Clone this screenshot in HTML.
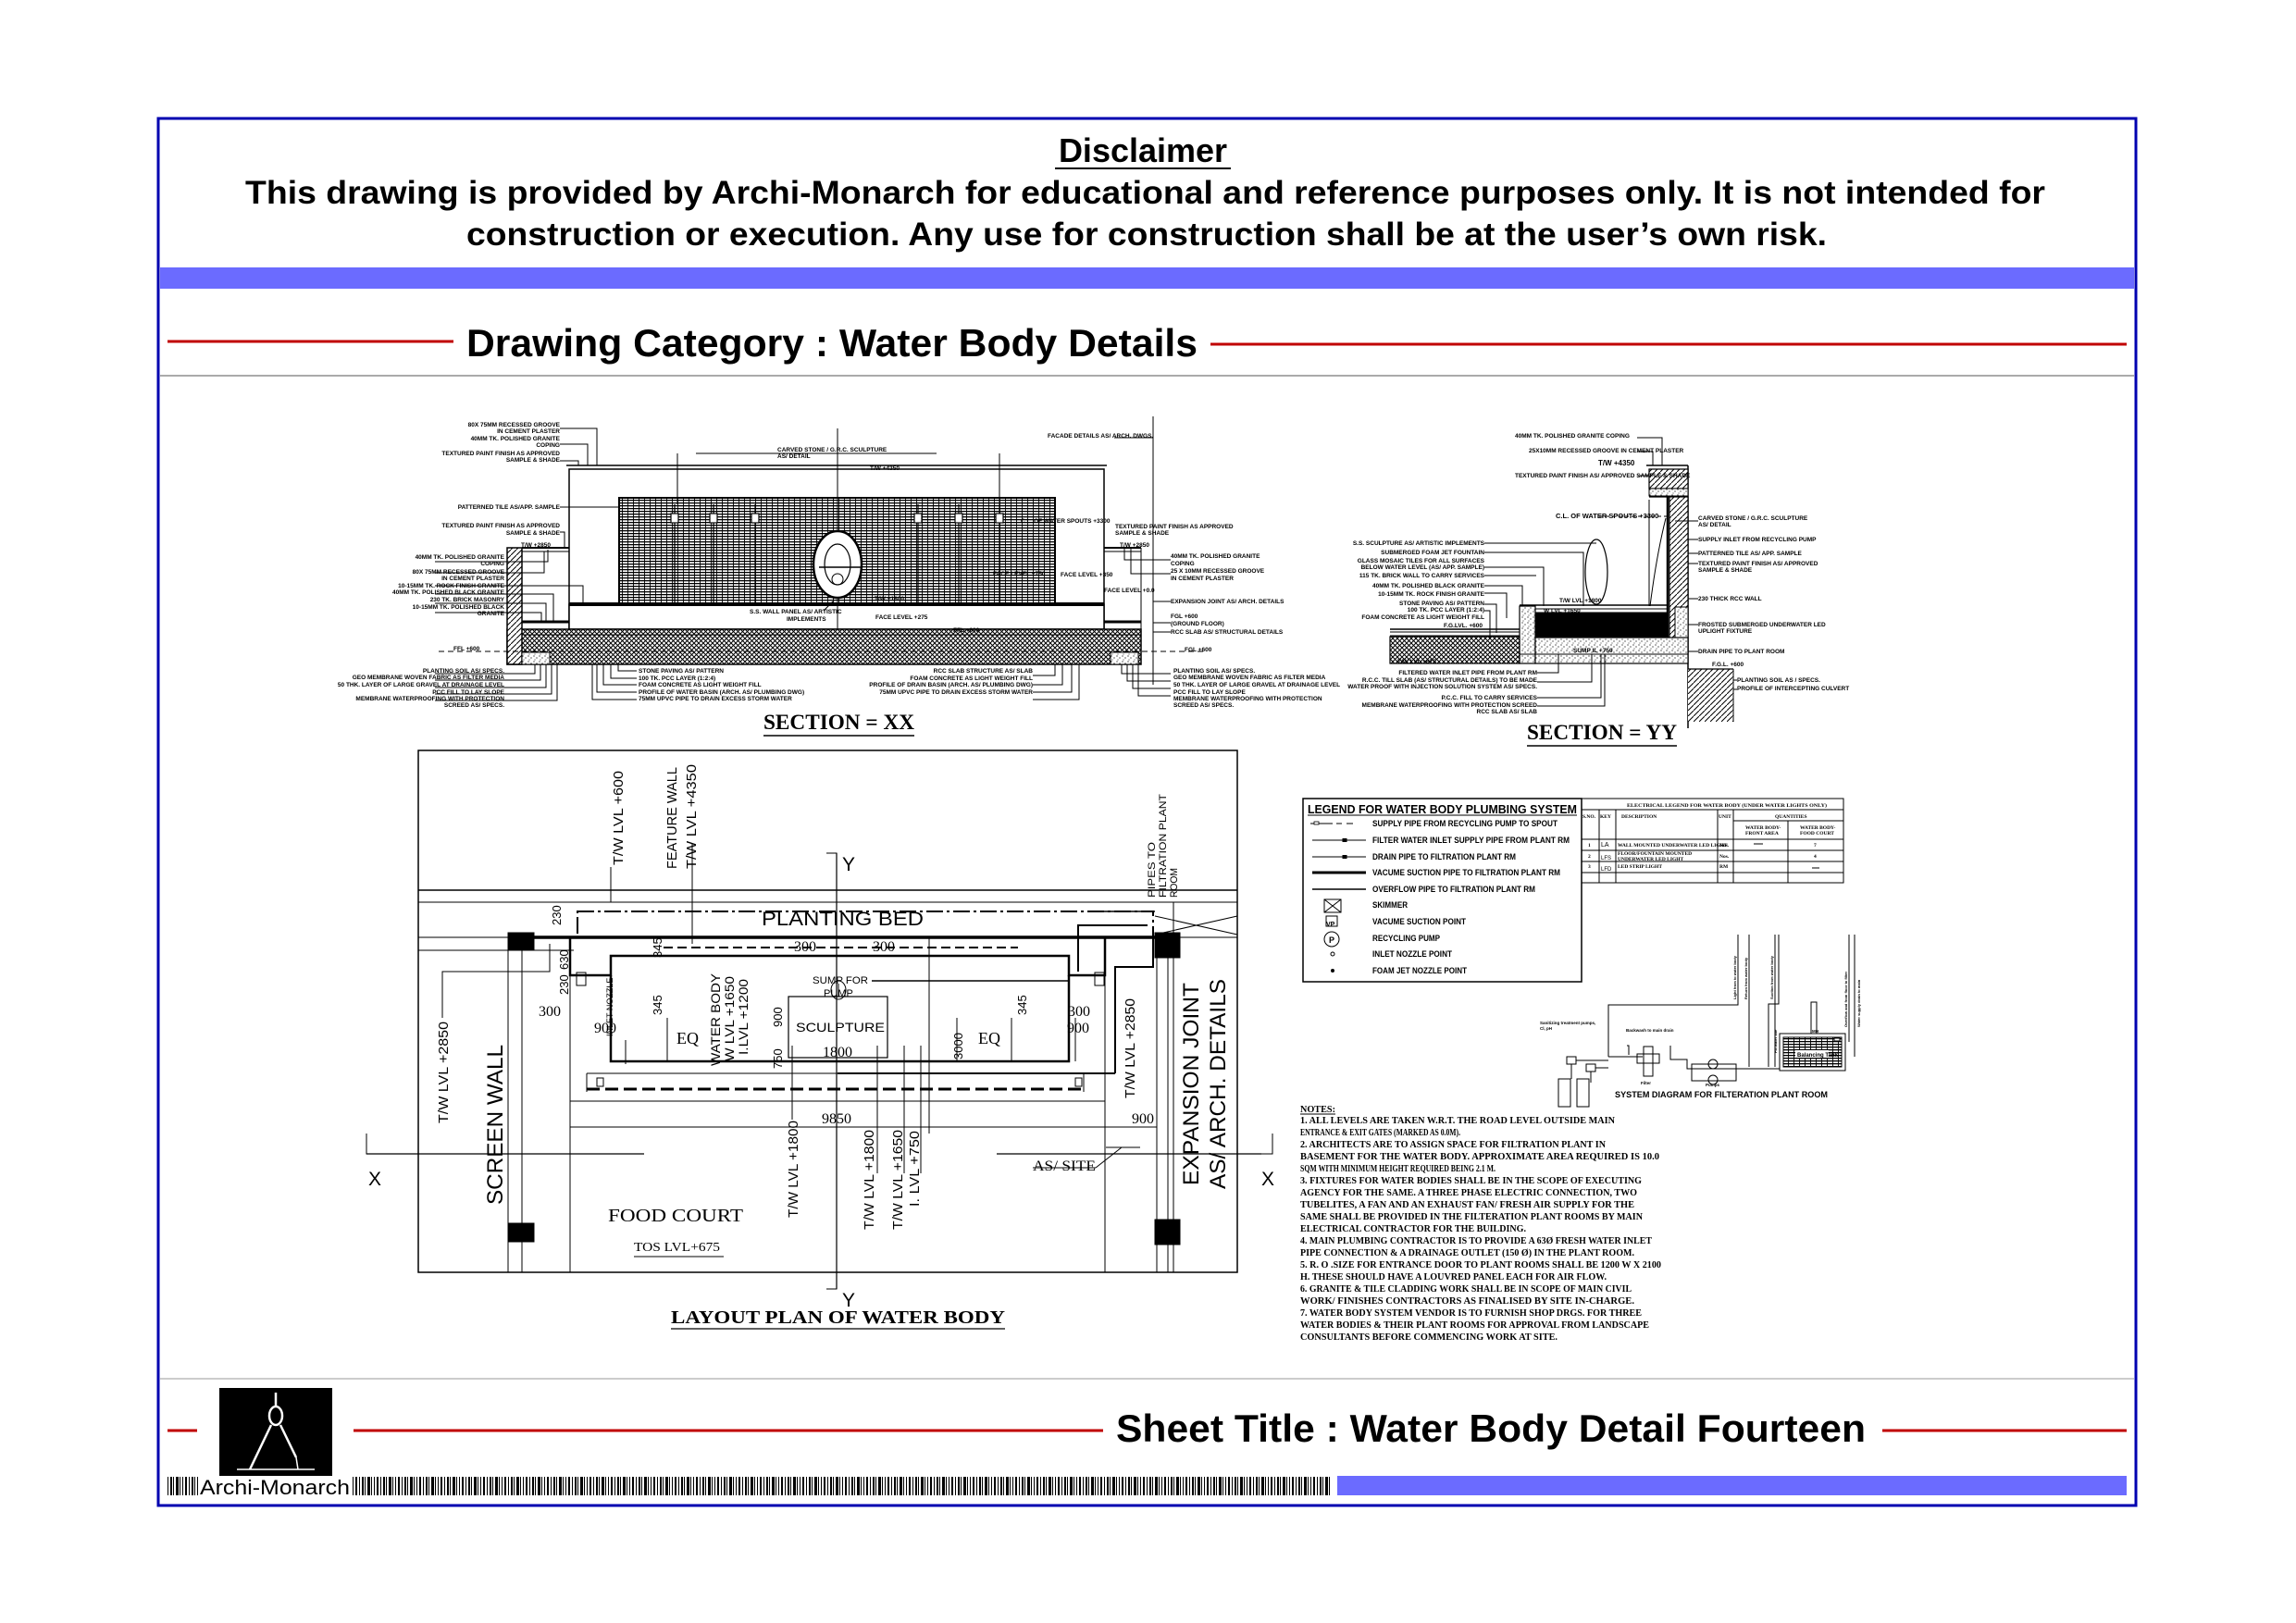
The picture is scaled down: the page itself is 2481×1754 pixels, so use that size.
<!DOCTYPE html>
<html><head><meta charset="utf-8">
<style>
html,body{margin:0;padding:0;background:#fff;}
svg{display:block;}
.s{font-family:"Liberation Sans",sans-serif;}
.sb{font-family:"Liberation Sans",sans-serif;font-weight:bold;}
.r{font-family:"Liberation Serif",serif;}
.rb{font-family:"Liberation Serif",serif;font-weight:bold;}
.t{font-family:"Liberation Sans",sans-serif;font-weight:bold;font-size:6.5px;}
</style></head>
<body>
<svg width="2481" height="1754" viewBox="0 0 2481 1754" xmlns="http://www.w3.org/2000/svg">
<defs>
<pattern id="tile" width="6" height="3" patternUnits="userSpaceOnUse"><rect width="6" height="3" fill="#fff"/><line x1="0" y1="0.6" x2="6" y2="0.6" stroke="#000" stroke-width="1.4"/><line x1="0.5" y1="0" x2="0.5" y2="3" stroke="#000" stroke-width="0.9"/></pattern>
<pattern id="cross" width="5" height="5" patternUnits="userSpaceOnUse"><rect width="5" height="5" fill="#fff"/><path d="M0 0L5 5M5 0L0 5" stroke="#000" stroke-width="1"/></pattern>
<pattern id="diag" width="6" height="6" patternUnits="userSpaceOnUse"><rect width="6" height="6" fill="#fff"/><path d="M0 6L6 0" stroke="#000" stroke-width="1"/></pattern>
<pattern id="dots" width="6" height="6" patternUnits="userSpaceOnUse"><rect width="6" height="6" fill="#fff"/><circle cx="1" cy="1" r="0.6"/><circle cx="4" cy="3" r="0.6"/><circle cx="2" cy="5" r="0.5"/></pattern>
<pattern id="bar" width="23" height="20" patternUnits="userSpaceOnUse"><rect x="0" y="0" width="2" height="20"/><rect x="3" y="0" width="1" height="20"/><rect x="6" y="0" width="3" height="20"/><rect x="10" y="0" width="1" height="20"/><rect x="13" y="0" width="1" height="20"/><rect x="16" y="0" width="2" height="20"/><rect x="20" y="0" width="1" height="20"/></pattern>
</defs>

<!-- frame -->
<rect x="171" y="128" width="2137" height="1499" fill="none" stroke="#0000b0" stroke-width="3"/>
<rect x="173" y="289" width="2133" height="23" fill="#6b6bff"/>

<!-- disclaimer -->
<text class="sb" x="1235" y="175" font-size="36" text-anchor="middle">Disclaimer</text>
<line x1="1140" y1="182" x2="1330" y2="182" stroke="#000" stroke-width="2"/>
<text class="sb" x="265" y="220" font-size="35" textLength="1945" lengthAdjust="spacingAndGlyphs">This drawing is provided by Archi-Monarch for educational and reference purposes only. It is not intended for</text>
<text class="sb" x="504" y="265" font-size="35" textLength="1470" lengthAdjust="spacingAndGlyphs">construction or execution. Any use for construction shall be at the user’s own risk.</text>

<!-- category -->
<line x1="181" y1="369" x2="490" y2="369" stroke="#c00000" stroke-width="3"/>
<text class="sb" x="504" y="385" font-size="42" textLength="790" lengthAdjust="spacingAndGlyphs">Drawing Category : Water Body Details</text>
<line x1="1308" y1="372" x2="2298" y2="372" stroke="#c00000" stroke-width="3"/>
<line x1="173" y1="406" x2="2306" y2="406" stroke="#aaa" stroke-width="2"/>

<!-- ================= SECTION XX ================= -->
<g stroke="#000" fill="none">
<rect x="615" y="507" width="578" height="173" stroke-width="1.5"/>
<line x1="612" y1="503" x2="1196" y2="503" stroke-width="1.5"/>
<rect x="669" y="538" width="471" height="115" fill="url(#tile)" stroke-width="2"/>
<rect x="615" y="653" width="578" height="27" fill="#fff" stroke-width="1.5"/>
<line x1="615" y1="653" x2="1193" y2="653" stroke-width="4"/>
<rect x="548" y="680" width="685" height="38" fill="url(#cross)" stroke-width="1.5"/>
<line x1="548" y1="686" x2="1233" y2="686" stroke-width="1"/>
<rect x="548" y="592" width="16" height="126" fill="url(#diag)" stroke-width="1.5"/>
<line x1="564" y1="592" x2="615" y2="592" stroke-width="2"/>
<line x1="564" y1="596" x2="615" y2="596" stroke-width="1"/>
<line x1="1193" y1="592" x2="1233" y2="592" stroke-width="2"/>
<line x1="1193" y1="596" x2="1233" y2="596" stroke-width="1"/>
<line x1="564" y1="672" x2="615" y2="672" stroke-width="3"/>
<line x1="1193" y1="672" x2="1233" y2="672" stroke-width="3"/>
<line x1="1233" y1="592" x2="1233" y2="718" stroke-width="1"/>
<rect x="564" y="705" width="30" height="13" fill="url(#dots)"/>
<rect x="1200" y="705" width="30" height="13" fill="url(#dots)"/>
<line x1="474" y1="704" x2="1300" y2="704" stroke-width="1" stroke-dasharray="6 4"/>
<line x1="905" y1="463" x2="905" y2="680" stroke-width="1"/>
<line x1="1246" y1="450" x2="1246" y2="740" stroke-width="1"/>
<ellipse cx="905" cy="610" rx="26" ry="36" fill="#fff" stroke-width="2.5"/>
<ellipse cx="905" cy="610" rx="14" ry="22" stroke-width="1.2"/>
<circle cx="905" cy="626" r="6" stroke-width="1"/>
<line x1="885" y1="613" x2="930" y2="613" stroke-width="1.5"/>
<g stroke-width="1.2">
<line x1="729" y1="545" x2="729" y2="653"/><rect x="725" y="555" width="8" height="10" fill="#fff"/>
<line x1="771" y1="545" x2="771" y2="653"/><rect x="767" y="555" width="8" height="10" fill="#fff"/>
<line x1="816" y1="545" x2="816" y2="653"/><rect x="812" y="555" width="8" height="10" fill="#fff"/>
<line x1="992" y1="545" x2="992" y2="653"/><rect x="988" y="555" width="8" height="10" fill="#fff"/>
<line x1="1036" y1="545" x2="1036" y2="653"/><rect x="1032" y="555" width="8" height="10" fill="#fff"/>
<line x1="1080" y1="545" x2="1080" y2="653"/><rect x="1076" y="555" width="8" height="10" fill="#fff"/>
</g>
<g stroke-width="1">
<polyline points="605,463 645,463 645,503"/>
<polyline points="605,480 635,480 635,503"/>
<polyline points="605,498 625,498 625,503"/>
<line x1="605" y1="548" x2="669" y2="548"/>
<polyline points="605,575 610,575 610,592"/>
<polyline points="470,607 592,607 592,594"/>
<polyline points="470,619 588,619 588,596"/>
<polyline points="470,633 630,633 630,653"/>
<polyline points="470,642 598,642 598,672"/>
<polyline points="470,652 590,652 590,672"/>
<polyline points="470,662 585,662 585,672"/>
<polyline points="470,728 578,728 578,718"/>
<polyline points="470,735 584,735 584,718"/>
<polyline points="470,743 590,743 590,718"/>
<polyline points="470,750 596,750 596,718"/>
<polyline points="470,757 602,757 602,718"/>
<polyline points="688,725 668,725 668,718"/>
<polyline points="688,733 660,733 660,718"/>
<polyline points="688,740 652,740 652,718"/>
<polyline points="688,748 645,748 645,718"/>
<polyline points="688,756 640,756 640,718"/>
<polyline points="1116,730 1140,730 1140,718"/>
<polyline points="1116,740 1148,740 1148,718"/>
<polyline points="1116,748 1158,748 1158,718"/>
<polyline points="1116,756 1166,756 1166,718"/>
<polyline points="1265,728 1212,728 1212,718"/>
<polyline points="1265,736 1218,736 1218,718"/>
<polyline points="1265,744 1224,744 1224,718"/>
<polyline points="1265,752 1230,752 1230,718"/>
<polyline points="1265,605 1215,605 1215,592"/>
<polyline points="1265,620 1222,620 1222,592"/>
<polyline points="1265,650 1246,650"/>
<polyline points="1265,673 1246,673"/>
<polyline points="1265,683 1246,683"/>
<polyline points="752,490 1012,490"/>
<polyline points="732,490 732,545"/><polyline points="1080,490 1080,545"/>
<line x1="1204" y1="473" x2="1246" y2="473"/>
<line x1="900" y1="650" x2="890" y2="660"/>
</g>
</g>
<g class="t">
<text x="605" y="461" text-anchor="end">80X 75MM RECESSED GROOVE</text>
<text x="605" y="468" text-anchor="end">IN CEMENT PLASTER</text>
<text x="605" y="476" text-anchor="end">40MM TK. POLISHED GRANITE</text>
<text x="605" y="483" text-anchor="end">COPING</text>
<text x="605" y="492" text-anchor="end">TEXTURED PAINT FINISH AS APPROVED</text>
<text x="605" y="499" text-anchor="end">SAMPLE &amp; SHADE</text>
<text x="605" y="550" text-anchor="end">PATTERNED TILE AS/APP. SAMPLE</text>
<text x="605" y="570" text-anchor="end">TEXTURED PAINT FINISH AS APPROVED</text>
<text x="605" y="578" text-anchor="end">SAMPLE &amp; SHADE</text>
<text x="595" y="591" text-anchor="end">T/W +2850</text>
<text x="545" y="604" text-anchor="end">40MM TK. POLISHED GRANITE</text>
<text x="545" y="611" text-anchor="end">COPING</text>
<text x="545" y="620" text-anchor="end">80X 75MM RECESSED GROOVE</text>
<text x="545" y="627" text-anchor="end">IN CEMENT PLASTER</text>
<text x="545" y="635" text-anchor="end">10-15MM TK. ROCK FINISH GRANITE</text>
<text x="545" y="642" text-anchor="end">40MM TK. POLISHED BLACK GRANITE</text>
<text x="545" y="650" text-anchor="end">230 TK. BRICK MASONRY</text>
<text x="545" y="658" text-anchor="end">10-15MM TK. POLISHED BLACK</text>
<text x="545" y="665" text-anchor="end">GRANITE</text>
<text x="490" y="703">FFL +600</text>
<text x="545" y="727" text-anchor="end">PLANTING SOIL AS/ SPECS.</text>
<text x="545" y="734" text-anchor="end">GEO MEMBRANE WOVEN FABRIC AS FILTER MEDIA</text>
<text x="545" y="742" text-anchor="end">50 THK. LAYER OF LARGE GRAVEL AT DRAINAGE LEVEL</text>
<text x="545" y="750" text-anchor="end">PCC FILL TO LAY SLOPE</text>
<text x="545" y="757" text-anchor="end">MEMBRANE WATERPROOFING WITH PROTECTION</text>
<text x="545" y="764" text-anchor="end">SCREED AS/ SPECS.</text>
<text x="690" y="727">STONE PAVING AS/ PATTERN</text>
<text x="690" y="735">100 TK. PCC LAYER (1:2:4)</text>
<text x="690" y="742">FOAM CONCRETE AS LIGHT WEIGHT FILL</text>
<text x="690" y="750">PROFILE OF WATER BASIN (ARCH. AS/ PLUMBING DWG)</text>
<text x="690" y="757">75MM UPVC PIPE TO DRAIN EXCESS STORM WATER</text>
<text x="1116" y="727" text-anchor="end">RCC SLAB STRUCTURE AS/ SLAB</text>
<text x="1116" y="735" text-anchor="end">FOAM CONCRETE AS LIGHT WEIGHT FILL</text>
<text x="1116" y="742" text-anchor="end">PROFILE OF DRAIN BASIN (ARCH. AS/ PLUMBING DWG)</text>
<text x="1116" y="750" text-anchor="end">75MM UPVC PIPE TO DRAIN EXCESS STORM WATER</text>
<text x="1268" y="727">PLANTING SOIL AS/ SPECS.</text>
<text x="1268" y="734">GEO MEMBRANE WOVEN FABRIC AS FILTER MEDIA</text>
<text x="1268" y="742">50 THK. LAYER OF LARGE GRAVEL AT DRAINAGE LEVEL</text>
<text x="1268" y="750">PCC FILL TO LAY SLOPE</text>
<text x="1268" y="757">MEMBRANE WATERPROOFING WITH PROTECTION</text>
<text x="1268" y="764">SCREED AS/ SPECS.</text>
<text x="1205" y="571">TEXTURED PAINT FINISH AS APPROVED</text>
<text x="1205" y="578">SAMPLE &amp; SHADE</text>
<text x="1210" y="591">T/W +2850</text>
<text x="1265" y="603">40MM TK. POLISHED GRANITE</text>
<text x="1265" y="611">COPING</text>
<text x="1265" y="619">25 X 10MM RECESSED GROOVE</text>
<text x="1265" y="627">IN CEMENT PLASTER</text>
<text x="1265" y="652">EXPANSION JOINT AS/ ARCH. DETAILS</text>
<text x="1265" y="668">FGL +600</text>
<text x="1265" y="676">(GROUND FLOOR)</text>
<text x="1265" y="685">RCC SLAB AS/ STRUCTURAL DETAILS</text>
<text x="1280" y="704">FGL +600</text>
<text x="1132" y="473">FACADE DETAILS AS/ ARCH. DWGS.</text>
<text x="840" y="488">CARVED STONE / G.R.C. SCULPTURE</text>
<text x="840" y="495">AS/ DETAIL</text>
<text x="940" y="508">T/W +4350</text>
<text x="1103" y="565">C.L. OF WATER SPOUTS +3300</text>
<text x="1146" y="623">FACE LEVEL +350</text>
<text x="1193" y="640">FACE LEVEL +0.0</text>
<text x="1073" y="622">FACE LEVEL +750</text>
<text x="945" y="649">T/W +1800</text>
<text x="810" y="663">S.S. WALL PANEL AS/ ARTISTIC</text>
<text x="850" y="671">IMPLEMENTS</text>
<text x="946" y="669">FACE LEVEL +275</text>
<text x="1030" y="683">FFL +600</text>
</g>
<text class="rb" x="825" y="788" font-size="23" textLength="163" lengthAdjust="spacingAndGlyphs">SECTION = XX</text>
<line x1="825" y1="795" x2="988" y2="795" stroke="#000" stroke-width="1.5"/>

<!-- ================= LAYOUT PLAN ================= -->
<g stroke="#000" fill="none">
<rect x="452" y="811" width="885" height="564" stroke-width="1.5"/>
<line x1="452" y1="962" x2="1337" y2="962" stroke-width="1.5"/>
<line x1="452" y1="975" x2="1337" y2="975" stroke-width="1"/>
<line x1="452" y1="1013" x2="1337" y2="1013" stroke-width="1"/>
<line x1="452" y1="1027" x2="620" y2="1027" stroke-width="1"/>
<line x1="549" y1="1013" x2="549" y2="1375" stroke-width="1"/>
<line x1="564" y1="1013" x2="564" y2="1375" stroke-width="1"/>
<rect x="549" y="1008" width="28" height="19" fill="#000"/>
<rect x="549" y="1322" width="28" height="20" fill="#000"/>
<rect x="1248" y="1008" width="27" height="27" fill="#000"/>
<rect x="1248" y="1318" width="27" height="27" fill="#000"/>
<line x1="1250" y1="1035" x2="1250" y2="1375" stroke-width="1"/>
<line x1="1262" y1="1035" x2="1262" y2="1375" stroke-width="1"/>
<line x1="1268" y1="975" x2="1268" y2="1375" stroke-width="1"/>
<line x1="1194" y1="1045" x2="1194" y2="1375" stroke-width="1"/>
<line x1="616" y1="1045" x2="616" y2="1375" stroke-width="1"/>
<rect x="624" y="985" width="622" height="28" stroke-width="2" stroke-dasharray="18 4 3 4"/>
<line x1="577" y1="1013" x2="1248" y2="1013" stroke-width="3.5"/>
<polyline points="616,1013 616,1054 660,1054 660,1033 1155,1033 1155,1054 1194,1054 1194,1013" stroke-width="2.5"/>
<polyline points="660,1054 660,1147 1155,1147 1155,1054" stroke-width="2.5"/>
<line x1="717" y1="1024" x2="1100" y2="1024" stroke-width="2" stroke-dasharray="10 5"/>
<line x1="634" y1="1177" x2="1171" y2="1177" stroke-width="3" stroke-dasharray="14 6"/>
<line x1="634" y1="1160" x2="1171" y2="1160" stroke-width="1"/>
<line x1="634" y1="1160" x2="634" y2="1180" stroke-width="1"/>
<line x1="1171" y1="1160" x2="1171" y2="1180" stroke-width="1"/>
<line x1="616" y1="1190" x2="1194" y2="1190" stroke-width="1"/>
<line x1="616" y1="1218" x2="1250" y2="1218" stroke-width="1"/>
<rect x="852" y="1077" width="107" height="66" stroke-width="1.2"/>
<line x1="942" y1="1060" x2="1155" y2="1060" stroke-width="1.5"/>
<line x1="906" y1="1063" x2="906" y2="1077" stroke-width="1"/>
<ellipse cx="906" cy="1070" rx="8" ry="10" stroke-width="1"/>
<line x1="905" y1="1160" x2="1205" y2="1160" stroke-width="2"/>
<polyline points="1205,1160 1205,1045 1246,1045 1246,1013" stroke-width="2"/>
<polyline points="1165,1050 1165,1000 1240,1000" stroke-width="2"/>
<line x1="1180" y1="985" x2="1248" y2="985" stroke-width="1.5"/>
<line x1="1248" y1="990" x2="1337" y2="1010" stroke-width="1"/>
<line x1="1248" y1="1010" x2="1337" y2="990" stroke-width="1"/>
<line x1="396" y1="1247" x2="696" y2="1247" stroke-width="1.2"/>
<line x1="1077" y1="1247" x2="1363" y2="1247" stroke-width="1.2"/>
<line x1="904" y1="922" x2="904" y2="1393" stroke-width="1.2"/>
<polyline points="893,922 904,922 904,935" stroke-width="1"/>
<polyline points="893,1393 904,1393 904,1380" stroke-width="1"/>
<polyline points="396,1225 396,1247 410,1247" stroke-width="1"/>
<polyline points="1375,1225 1375,1247 1360,1247" stroke-width="1"/>
<line x1="1004" y1="1013" x2="1004" y2="1225" stroke-width="1"/>
<line x1="948" y1="1130" x2="948" y2="1268" stroke-width="1"/>
<line x1="977" y1="1130" x2="977" y2="1268" stroke-width="1"/>
<line x1="995" y1="1130" x2="995" y2="1268" stroke-width="1"/>
<line x1="856" y1="1130" x2="856" y2="1210" stroke-width="1"/>
<line x1="676" y1="1124" x2="676" y2="1150" stroke-width="1"/>
<line x1="721" y1="1100" x2="721" y2="1147" stroke-width="1"/>
<line x1="1034" y1="1100" x2="1034" y2="1147" stroke-width="1"/>
<line x1="1093" y1="1100" x2="1093" y2="1147" stroke-width="1"/>
<line x1="1162" y1="1100" x2="1162" y2="1147" stroke-width="1"/>
<polyline points="478,1100 478,1050 594,1050 594,1020" stroke-width="1"/>
<line x1="1116" y1="1262" x2="1184" y2="1262" stroke-width="1"/>
<line x1="1184" y1="1262" x2="1212" y2="1240" stroke-width="1"/>
<line x1="1195" y1="1240" x2="1232" y2="1240" stroke-width="1"/>
<line x1="660" y1="937" x2="660" y2="975" stroke-width="1"/>
<line x1="748" y1="912" x2="748" y2="1020" stroke-width="1"/>
<rect x="623" y="1051" width="10" height="14" stroke-width="1"/>
<rect x="1183" y="1051" width="10" height="14" stroke-width="1"/>
<rect x="645" y="1165" width="7" height="9" stroke-width="1"/>
<rect x="1162" y="1165" width="7" height="9" stroke-width="1"/>
</g>
<g class="s" fill="#000">
<text x="823" y="1000" font-size="21" textLength="175" lengthAdjust="spacingAndGlyphs">PLANTING BED</text>
<text font-size="24" transform="translate(543,1302) rotate(-90)" textLength="173" lengthAdjust="spacingAndGlyphs">SCREEN WALL</text>
<text font-size="24" transform="translate(1295,1281) rotate(-90)" textLength="219" lengthAdjust="spacingAndGlyphs">EXPANSION JOINT</text>
<text font-size="24" transform="translate(1324,1285) rotate(-90)" textLength="227" lengthAdjust="spacingAndGlyphs">AS/ ARCH. DETAILS</text>
<text font-size="15" transform="translate(484,1214) rotate(-90)" textLength="110" lengthAdjust="spacingAndGlyphs">T/W LVL +2850</text>
<text font-size="15" transform="translate(673,935) rotate(-90)" textLength="102" lengthAdjust="spacingAndGlyphs">T/W LVL +600</text>
<text font-size="15" transform="translate(731,939) rotate(-90)" textLength="110" lengthAdjust="spacingAndGlyphs">FEATURE WALL</text>
<text font-size="15" transform="translate(752,939) rotate(-90)" textLength="113" lengthAdjust="spacingAndGlyphs">T/W LVL +4350</text>
<text font-size="11" transform="translate(1248,970) rotate(-90)" textLength="60" lengthAdjust="spacingAndGlyphs">PIPES TO</text>
<text font-size="11" transform="translate(1260,970) rotate(-90)" textLength="112" lengthAdjust="spacingAndGlyphs">FILTRATION PLANT</text>
<text font-size="11" transform="translate(1272,970) rotate(-90)" textLength="32" lengthAdjust="spacingAndGlyphs">ROOM</text>
<text font-size="15" transform="translate(862,1316) rotate(-90)" textLength="105" lengthAdjust="spacingAndGlyphs">T/W LVL +1800</text>
<text font-size="15" transform="translate(944,1329) rotate(-90)" textLength="108" lengthAdjust="spacingAndGlyphs">T/W LVL +1800</text>
<text font-size="15" transform="translate(975,1329) rotate(-90)" textLength="108" lengthAdjust="spacingAndGlyphs">T/W LVL +1650</text>
<text font-size="15" transform="translate(993,1304) rotate(-90)" textLength="82" lengthAdjust="spacingAndGlyphs">I. LVL +750</text>
<text font-size="15" transform="translate(1226,1187) rotate(-90)" textLength="108" lengthAdjust="spacingAndGlyphs">T/W LVL +2850</text>
<text font-size="14" transform="translate(778,1152) rotate(-90)" textLength="100" lengthAdjust="spacingAndGlyphs">WATER BODY</text>
<text font-size="14" transform="translate(793,1147) rotate(-90)" textLength="92" lengthAdjust="spacingAndGlyphs">W LVL +1650</text>
<text font-size="14" transform="translate(808,1140) rotate(-90)" textLength="82" lengthAdjust="spacingAndGlyphs">I.LVL +1200</text>
<text font-size="13" transform="translate(606,1000) rotate(-90)">230</text>
<text font-size="13" transform="translate(614,1048) rotate(-90)">630</text>
<text font-size="13" transform="translate(614,1075) rotate(-90)">230</text>
<text font-size="13" transform="translate(715,1035) rotate(-90)">345</text>
<text font-size="13" transform="translate(715,1097) rotate(-90)">345</text>
<text font-size="13" transform="translate(1109,1097) rotate(-90)">345</text>
<text font-size="13" transform="translate(845,1110) rotate(-90)">900</text>
<text font-size="13" transform="translate(845,1155) rotate(-90)">750</text>
<text font-size="13" transform="translate(1040,1145) rotate(-90)">3000</text>
<text font-size="9" transform="translate(662,1120) rotate(-90)">INLET NOZZLE</text>
<text class="r" font-size="16" x="582" y="1098">300</text>
<text class="r" font-size="16" x="1154" y="1098">300</text>
<text class="r" font-size="16" x="642" y="1116">900</text>
<text class="r" font-size="16" x="1153" y="1116">900</text>
<text class="r" font-size="16" x="858" y="1028">300</text>
<text class="r" font-size="16" x="943" y="1028">300</text>
<text class="r" font-size="18" x="731" y="1128">EQ</text>
<text class="r" font-size="18" x="1057" y="1128">EQ</text>
<text font-size="14" x="860" y="1115" textLength="96" lengthAdjust="spacingAndGlyphs">SCULPTURE</text>
<text class="r" font-size="16" x="889" y="1142">1800</text>
<text font-size="11" x="878" y="1063" textLength="60" lengthAdjust="spacingAndGlyphs">SUMP FOR</text>
<text font-size="11" x="890" y="1077">PUMP</text>
<text class="r" font-size="16" x="888" y="1214">9850</text>
<text class="r" font-size="16" x="1223" y="1214">900</text>
<text class="r" font-size="16" x="1116" y="1265" textLength="68" lengthAdjust="spacingAndGlyphs">AS/ SITE</text>
<text font-size="21" x="398" y="1281">X</text>
<text font-size="21" x="1363" y="1281">X</text>
<text font-size="21" x="910" y="941">Y</text>
<text font-size="21" x="910" y="1412">Y</text>
<text class="r" font-size="20" x="657" y="1320" textLength="146" lengthAdjust="spacingAndGlyphs">FOOD COURT</text>
<text class="r" font-size="14" x="685" y="1352" textLength="93" lengthAdjust="spacingAndGlyphs">TOS LVL+675</text>
</g>
<line x1="685" y1="1358" x2="782" y2="1358" stroke="#000" stroke-width="1"/>
<text class="rb" x="725" y="1430" font-size="20" textLength="361" lengthAdjust="spacingAndGlyphs">LAYOUT PLAN OF WATER BODY</text>
<line x1="725" y1="1436" x2="1086" y2="1436" stroke="#000" stroke-width="1.2"/>

<!-- ================= SECTION YY ================= -->
<g stroke="#000" fill="none">
<line x1="1824" y1="503" x2="1824" y2="787" stroke-width="1.5"/>
<line x1="1779" y1="503" x2="1824" y2="503" stroke-width="1.5"/>
<rect x="1782" y="507" width="42" height="21" fill="url(#diag)" stroke-width="1.2"/>
<rect x="1782" y="528" width="42" height="8" fill="url(#dots)" stroke-width="1"/>
<rect x="1804" y="537" width="20" height="168" fill="url(#diag)" stroke-width="1.2"/>
<line x1="1782" y1="537" x2="1804" y2="537" stroke-width="1.2"/>
<line x1="1802" y1="537" x2="1802" y2="690" stroke-width="2.5"/>
<rect x="1810" y="656" width="14" height="49" fill="url(#dots)" stroke-width="1"/>
<rect x="1659" y="662" width="143" height="27" fill="#000"/>
<line x1="1642" y1="654" x2="1802" y2="654" stroke-width="1.5"/>
<line x1="1659" y1="658" x2="1802" y2="658" stroke-width="1"/>
<rect x="1642" y="655" width="17" height="62" fill="url(#dots)" stroke-width="1.2"/>
<rect x="1659" y="689" width="165" height="28" fill="url(#dots)" stroke-width="1.2"/>
<line x1="1642" y1="707" x2="1824" y2="707" stroke-width="1"/>
<rect x="1502" y="688" width="140" height="29" fill="url(#cross)" stroke-width="1.2"/>
<line x1="1502" y1="680" x2="1642" y2="680" stroke-width="1.5"/>
<line x1="1502" y1="683" x2="1642" y2="683" stroke-width="1"/>
<line x1="1502" y1="687" x2="1642" y2="687" stroke-width="1"/>
<ellipse cx="1725" cy="618" rx="12" ry="35" stroke-width="1.2"/>
<path d="M1800 560 Q1790 600 1783 655" stroke-width="1"/>
<line x1="1782" y1="540" x2="1782" y2="655" stroke-width="1"/>
<rect x="1824" y="723" width="49" height="57" fill="url(#diag)" stroke="none"/>
<line x1="1824" y1="723" x2="1873" y2="723" stroke-width="1.2"/>
<line x1="1873" y1="723" x2="1873" y2="780" stroke-width="1"/>
<g stroke-width="1">
<polyline points="1769,473 1796,473 1796,503"/>
<polyline points="1770,488 1786,488 1786,503"/>
<line x1="1770" y1="514" x2="1782" y2="514"/>
<line x1="1728" y1="558" x2="1801" y2="558" stroke-dasharray="4 3"/>
<line x1="1604" y1="587" x2="1725" y2="587"/>
<polyline points="1604,597 1711,597 1711,655"/>
<polyline points="1604,613 1668,613 1668,655"/>
<line x1="1604" y1="622" x2="1660" y2="622"/>
<polyline points="1604,633 1645,633 1645,655"/>
<polyline points="1604,641 1628,641 1628,668"/>
<polyline points="1604,653 1617,653 1617,684"/>
<polyline points="1604,660 1610,660 1610,690"/>
<line x1="1835" y1="563" x2="1810" y2="563"/>
<line x1="1835" y1="583" x2="1824" y2="583"/>
<line x1="1835" y1="598" x2="1824" y2="598"/>
<line x1="1835" y1="609" x2="1824" y2="609"/>
<line x1="1835" y1="647" x2="1824" y2="647"/>
<line x1="1835" y1="675" x2="1824" y2="675"/>
<line x1="1835" y1="704" x2="1824" y2="704"/>
<polyline points="1661,727 1684,727 1684,707"/>
<polyline points="1661,737 1720,737 1720,707"/>
<polyline points="1661,754 1730,754 1730,707"/>
<polyline points="1661,763 1734,763 1734,707"/>
<line x1="1873" y1="735" x2="1877" y2="735"/>
<line x1="1873" y1="745" x2="1877" y2="745"/>
</g>
</g>
<g class="t">
<text x="1637" y="473">40MM TK. POLISHED GRANITE COPING</text>
<text x="1652" y="489">25X10MM RECESSED GROOVE IN CEMENT PLASTER</text>
<text x="1727" y="503" font-size="8">T/W +4350</text>
<text x="1637" y="516">TEXTURED PAINT FINISH AS/ APPROVED SAMPLE &amp; SHADE</text>
<text x="1681" y="560" font-size="7.5">C.L. OF WATER SPOUTS +3300</text>
<text x="1604" y="589" text-anchor="end">S.S. SCULPTURE AS/ ARTISTIC IMPLEMENTS</text>
<text x="1604" y="599" text-anchor="end">SUBMERGED FOAM JET FOUNTAIN</text>
<text x="1604" y="608" text-anchor="end">GLASS MOSAIC TILES FOR ALL SURFACES</text>
<text x="1604" y="615" text-anchor="end">BELOW WATER LEVEL (AS/ APP. SAMPLE)</text>
<text x="1604" y="624" text-anchor="end">115 TK. BRICK WALL TO CARRY SERVICES</text>
<text x="1604" y="635" text-anchor="end">40MM TK. POLISHED BLACK GRANITE</text>
<text x="1604" y="644" text-anchor="end">10-15MM TK. ROCK FINISH GRANITE</text>
<text x="1604" y="654" text-anchor="end">STONE PAVING AS/ PATTERN</text>
<text x="1604" y="661" text-anchor="end">100 TK. PCC LAYER (1:2:4)</text>
<text x="1604" y="669" text-anchor="end">FOAM CONCRETE AS LIGHT WEIGHT FILL</text>
<text x="1560" y="678">F.G.LVL. +600</text>
<text x="1685" y="651">T/W LVL +1800</text>
<text x="1668" y="662">W LVL +1650</text>
<text x="1700" y="705">SUMP IL +750</text>
<text x="1510" y="717">T/W LVL +675</text>
<text x="1835" y="562">CARVED STONE / G.R.C. SCULPTURE</text>
<text x="1835" y="569">AS/ DETAIL</text>
<text x="1835" y="585">SUPPLY INLET FROM RECYCLING PUMP</text>
<text x="1835" y="600">PATTERNED TILE AS/ APP. SAMPLE</text>
<text x="1835" y="611">TEXTURED PAINT FINISH AS/ APPROVED</text>
<text x="1835" y="618">SAMPLE &amp; SHADE</text>
<text x="1835" y="649">230 THICK RCC WALL</text>
<text x="1835" y="677">FROSTED SUBMERGED UNDERWATER LED</text>
<text x="1835" y="684">UPLIGHT FIXTURE</text>
<text x="1835" y="706">DRAIN PIPE TO PLANT ROOM</text>
<text x="1850" y="720">F.G.L. +600</text>
<text x="1877" y="737">PLANTING SOIL AS / SPECS.</text>
<text x="1877" y="746">PROFILE OF INTERCEPTING CULVERT</text>
<text x="1661" y="729" text-anchor="end">FILTERED WATER INLET PIPE FROM PLANT RM</text>
<text x="1661" y="737" text-anchor="end">R.C.C. TILL SLAB (AS/ STRUCTURAL DETAILS) TO BE MADE</text>
<text x="1661" y="744" text-anchor="end">WATER PROOF WITH INJECTION SOLUTION SYSTEM AS/ SPECS.</text>
<text x="1661" y="756" text-anchor="end">P.C.C. FILL TO CARRY SERVICES</text>
<text x="1661" y="764" text-anchor="end">MEMBRANE WATERPROOFING WITH PROTECTION SCREED</text>
<text x="1661" y="771" text-anchor="end">RCC SLAB AS/ SLAB</text>
</g>
<text class="rb" x="1650" y="799" font-size="23" textLength="162" lengthAdjust="spacingAndGlyphs">SECTION = YY</text>
<line x1="1650" y1="806" x2="1812" y2="806" stroke="#000" stroke-width="1.5"/>

<!-- ================= LEGEND ================= -->
<rect x="1408" y="863" width="301" height="198" fill="none" stroke="#000" stroke-width="1.5"/>
<text class="sb" x="1413" y="879" font-size="13" textLength="291" lengthAdjust="spacingAndGlyphs">LEGEND FOR WATER BODY PLUMBING SYSTEM</text>
<line x1="1413" y1="881" x2="1704" y2="881" stroke="#000" stroke-width="1"/>
<g stroke="#000">
<line x1="1416" y1="890" x2="1440" y2="890" stroke-width="1"/><rect x="1420" y="888" width="5" height="3" fill="#fff" stroke-width="0.8"/>
<line x1="1444" y1="890" x2="1450" y2="890"/><line x1="1455" y1="890" x2="1462" y2="890"/>
<line x1="1418" y1="908" x2="1476" y2="908" stroke-width="1"/><rect x="1451" y="906.5" width="4" height="3"/>
<line x1="1418" y1="926" x2="1476" y2="926" stroke-width="1"/><rect x="1451" y="924.5" width="4" height="3"/>
<line x1="1418" y1="943" x2="1476" y2="943" stroke-width="3"/>
<line x1="1418" y1="961" x2="1476" y2="961" stroke-width="1.5"/>
<rect x="1431" y="972" width="18" height="14" fill="none" stroke-width="1"/><path d="M1431 972L1449 986M1449 972L1431 986" stroke-width="1"/>
<rect x="1433" y="990" width="12" height="11" fill="none" stroke-width="1"/>
<circle cx="1439" cy="1015" r="8" fill="none" stroke-width="1"/>
<circle cx="1440" cy="1031" r="2" fill="none" stroke-width="1"/>
<circle cx="1440" cy="1049" r="1.5" fill="#000"/>
</g>
<g class="sb" font-size="9">
<text x="1433" y="1001" font-size="7">VP</text>
<text x="1436" y="1019" font-size="9">P</text>
<text x="1483" y="893" textLength="200" lengthAdjust="spacingAndGlyphs">SUPPLY PIPE FROM RECYCLING PUMP TO SPOUT</text>
<text x="1483" y="911" textLength="213" lengthAdjust="spacingAndGlyphs">FILTER WATER INLET SUPPLY PIPE FROM PLANT RM</text>
<text x="1483" y="929" textLength="155" lengthAdjust="spacingAndGlyphs">DRAIN PIPE TO FILTRATION PLANT RM</text>
<text x="1483" y="946" textLength="203" lengthAdjust="spacingAndGlyphs">VACUME SUCTION PIPE TO FILTRATION PLANT RM</text>
<text x="1483" y="964" textLength="176" lengthAdjust="spacingAndGlyphs">OVERFLOW PIPE TO FILTRATION PLANT RM</text>
<text x="1483" y="981" textLength="38" lengthAdjust="spacingAndGlyphs">SKIMMER</text>
<text x="1483" y="999" textLength="101" lengthAdjust="spacingAndGlyphs">VACUME SUCTION POINT</text>
<text x="1483" y="1017" textLength="73" lengthAdjust="spacingAndGlyphs">RECYCLING PUMP</text>
<text x="1483" y="1034" textLength="86" lengthAdjust="spacingAndGlyphs">INLET NOZZLE POINT</text>
<text x="1483" y="1052" textLength="102" lengthAdjust="spacingAndGlyphs">FOAM JET NOZZLE POINT</text>
</g>
<g stroke="#000" stroke-width="1" fill="none">
<rect x="1709" y="863" width="283" height="91"/>
<line x1="1709" y1="875" x2="1992" y2="875"/>
<line x1="1873" y1="887" x2="1992" y2="887"/>
<line x1="1709" y1="907" x2="1992" y2="907"/>
<line x1="1709" y1="919" x2="1992" y2="919"/>
<line x1="1709" y1="931" x2="1992" y2="931"/>
<line x1="1709" y1="943" x2="1992" y2="943"/>
<line x1="1728" y1="875" x2="1728" y2="954"/>
<line x1="1746" y1="875" x2="1746" y2="954"/>
<line x1="1856" y1="875" x2="1856" y2="954"/>
<line x1="1873" y1="875" x2="1873" y2="954"/>
<line x1="1932" y1="887" x2="1932" y2="954"/>
</g>
<g class="rb" font-size="5.5">
<text x="1758" y="872" textLength="216" lengthAdjust="spacingAndGlyphs">ELECTRICAL LEGEND FOR WATER BODY (UNDER WATER LIGHTS ONLY)</text>
<text x="1710" y="884">S.NO.</text><text x="1729" y="884">KEY</text><text x="1752" y="884">DESCRIPTION</text><text x="1857" y="884">UNIT</text><text x="1918" y="884">QUANTITIES</text>
<text x="1886" y="896">WATER BODY-</text><text x="1886" y="902">FRONT AREA</text>
<text x="1945" y="896">WATER BODY-</text><text x="1945" y="902">FOOD COURT</text>
<text x="1716" y="915">1</text><text x="1748" y="915">WALL MOUNTED UNDERWATER LED LIGHT</text><text x="1858" y="915">Nos.</text><text x="1960" y="915">7</text>
<text x="1716" y="927">2</text><text x="1748" y="924">FLOOR/FOUNTAIN MOUNTED</text><text x="1748" y="930">UNDERWATER LED LIGHT</text><text x="1858" y="927">Nos.</text><text x="1960" y="927">4</text>
<text x="1716" y="938">3</text><text x="1748" y="938">LED STRIP LIGHT</text><text x="1858" y="938">RM</text>
</g>
<line x1="1895" y1="912" x2="1905" y2="912" stroke="#000"/>
<line x1="1958" y1="938" x2="1966" y2="938" stroke="#000"/>
<text class="s" x="1730" y="915" font-size="7">LA</text>
<text class="s" x="1730" y="929" font-size="6">LFS</text>
<text class="s" x="1730" y="941" font-size="6">LFD</text>

<!-- ================= SYSTEM DIAGRAM ================= -->
<g stroke="#000" fill="none" stroke-width="1">
<polyline points="1738,1142 1738,1086 1878,1086 1878,1010"/>
<line x1="1890" y1="1010" x2="1890" y2="1153"/>
<line x1="1918" y1="1010" x2="1918" y2="1153"/>
<polyline points="1922,1010 1922,1085 1911,1085 1911,1153"/>
<line x1="1998" y1="1010" x2="1998" y2="1126"/>
<line x1="2004" y1="1010" x2="2004" y2="1142"/>
<polyline points="1738,1142 1775,1142"/>
<polyline points="1758,1130 1760,1130 1760,1140"/>
<polyline points="1805,1130 1805,1145 1823,1145 1823,1155 1884,1155"/>
<rect x="1769" y="1139" width="24" height="10"/>
<rect x="1776" y="1131" width="10" height="32"/>
<rect x="1828" y="1150" width="48" height="18"/>
<circle cx="1851" cy="1150" r="5"/><circle cx="1851" cy="1167" r="5"/>
<line x1="1876" y1="1155" x2="1923" y2="1155"/>
<rect x="1923" y="1117" width="71" height="40"/>
<rect x="1927" y="1121" width="63" height="32" fill="url(#tile)"/>
<rect x="1940" y="1135" width="36" height="8" fill="#fff" stroke="none"/>
<rect x="1982" y="1122" width="6" height="3" fill="#fff"/>
<rect x="1957" y="1083" width="6" height="34"/>
<rect x="1693" y="1142" width="10" height="8"/>
<rect x="1714" y="1150" width="10" height="8"/>
<polyline points="1698,1150 1698,1166"/><polyline points="1719,1158 1719,1170"/>
<rect x="1684" y="1166" width="13" height="30"/>
<rect x="1704" y="1166" width="13" height="30"/>
<line x1="1703" y1="1146" x2="1738" y2="1146"/>
<line x1="1724" y1="1154" x2="1738" y2="1154"/>
</g>
<g class="sb" font-size="4.5">
<text x="1664" y="1107">Sanitizing treatment pumps,</text>
<text x="1664" y="1113">Cl, pH</text>
<text x="1757" y="1115">Backwash to main drain</text>
<text x="1773" y="1172">Filter</text>
<text x="1843" y="1174">Pumps</text>
<text x="1942" y="1142" font-size="6">Balancing Tank</text>
<text x="1958" y="1116">MH</text>
<text font-size="4" transform="translate(1876,1080) rotate(-90)">Light from to water body</text>
<text font-size="4" transform="translate(1888,1080) rotate(-90)">Return from water body</text>
<text font-size="4" transform="translate(1916,1080) rotate(-90)">Suction from water body</text>
<text font-size="4" transform="translate(1996,1110) rotate(-90)">Overflow and from floor to filter</text>
<text font-size="4" transform="translate(2010,1110) rotate(-90)">Water supply drain to main</text>
<text font-size="4" transform="translate(1920,1138) rotate(-90)">Fill water line</text>
</g>
<text class="sb" x="1745" y="1186" font-size="9" textLength="230" lengthAdjust="spacingAndGlyphs">SYSTEM DIAGRAM FOR FILTERATION PLANT ROOM</text>

<!-- ================= NOTES ================= -->
<g class="rb" font-size="10.5">
<text x="1405" y="1202" textLength="38" lengthAdjust="spacingAndGlyphs">NOTES:</text>
<text x="1405" y="1214" textLength="340" lengthAdjust="spacingAndGlyphs">1. ALL LEVELS ARE TAKEN W.R.T. THE ROAD LEVEL OUTSIDE MAIN</text>
<text x="1405" y="1227" textLength="173" lengthAdjust="spacingAndGlyphs">ENTRANCE &amp; EXIT GATES (MARKED AS 0.0M).</text>
<text x="1405" y="1240" textLength="330" lengthAdjust="spacingAndGlyphs">2. ARCHITECTS ARE TO ASSIGN SPACE FOR FILTRATION PLANT IN</text>
<text x="1405" y="1253" textLength="388" lengthAdjust="spacingAndGlyphs">BASEMENT FOR THE WATER BODY. APPROXIMATE AREA REQUIRED IS 10.0</text>
<text x="1405" y="1266" textLength="211" lengthAdjust="spacingAndGlyphs">SQM WITH MINIMUM HEIGHT  REQUIRED BEING 2.1 M.</text>
<text x="1405" y="1279" textLength="369" lengthAdjust="spacingAndGlyphs">3. FIXTURES FOR WATER BODIES SHALL BE IN THE SCOPE OF EXECUTING</text>
<text x="1405" y="1292" textLength="364" lengthAdjust="spacingAndGlyphs">AGENCY FOR THE SAME. A THREE PHASE ELECTRIC CONNECTION, TWO</text>
<text x="1405" y="1305" textLength="361" lengthAdjust="spacingAndGlyphs">TUBELITES, A FAN  AND AN EXHAUST FAN/ FRESH AIR SUPPLY FOR THE</text>
<text x="1405" y="1318" textLength="370" lengthAdjust="spacingAndGlyphs">SAME SHALL BE PROVIDED IN THE FILTERATION PLANT ROOMS BY MAIN</text>
<text x="1405" y="1331" textLength="244" lengthAdjust="spacingAndGlyphs">ELECTRICAL CONTRACTOR FOR THE BUILDING.</text>
<text x="1405" y="1344" textLength="380" lengthAdjust="spacingAndGlyphs">4. MAIN PLUMBING CONTRACTOR IS TO PROVIDE A 63Ø FRESH WATER INLET</text>
<text x="1405" y="1357" textLength="361" lengthAdjust="spacingAndGlyphs">PIPE CONNECTION &amp; A DRAINAGE OUTLET (150 Ø) IN THE PLANT ROOM.</text>
<text x="1405" y="1370" textLength="390" lengthAdjust="spacingAndGlyphs">5. R. O .SIZE FOR ENTRANCE DOOR TO PLANT ROOMS SHALL BE 1200 W X 2100</text>
<text x="1405" y="1383" textLength="331" lengthAdjust="spacingAndGlyphs">H. THESE SHOULD HAVE A LOUVRED PANEL EACH FOR AIR FLOW.</text>
<text x="1405" y="1396" textLength="358" lengthAdjust="spacingAndGlyphs">6. GRANITE &amp; TILE CLADDING WORK SHALL BE IN SCOPE OF MAIN CIVIL</text>
<text x="1405" y="1409" textLength="361" lengthAdjust="spacingAndGlyphs">WORK/ FINISHES CONTRACTORS AS FINALISED BY SITE IN-CHARGE.</text>
<text x="1405" y="1422" textLength="369" lengthAdjust="spacingAndGlyphs">7. WATER BODY SYSTEM VENDOR IS TO  FURNISH SHOP DRGS. FOR THREE</text>
<text x="1405" y="1435" textLength="377" lengthAdjust="spacingAndGlyphs">WATER BODIES &amp; THEIR PLANT ROOMS FOR APPROVAL FROM LANDSCAPE</text>
<text x="1405" y="1448" textLength="278" lengthAdjust="spacingAndGlyphs">CONSULTANTS BEFORE COMMENCING WORK AT SITE.</text>
</g>
<line x1="1405" y1="1204" x2="1443" y2="1204" stroke="#000" stroke-width="1"/>

<!-- ================= TITLE BLOCK ================= -->
<line x1="173" y1="1490" x2="2306" y2="1490" stroke="#ccc" stroke-width="2"/>
<rect x="237" y="1500" width="122" height="95" fill="#000"/>
<g stroke="#fff" fill="none" stroke-width="2.5">
<line x1="298" y1="1505" x2="298" y2="1520"/>
<ellipse cx="298" cy="1530" rx="7" ry="10"/>
<line x1="293" y1="1540" x2="270" y2="1588"/>
<line x1="303" y1="1540" x2="320" y2="1575"/>
<line x1="256" y1="1588" x2="340" y2="1588" stroke-width="1.5"/>
<line x1="320" y1="1575" x2="322" y2="1588" stroke-width="1.5"/>
</g>
<line x1="181" y1="1546" x2="213" y2="1546" stroke="#c00000" stroke-width="3"/>
<line x1="382" y1="1546" x2="1192" y2="1546" stroke="#c00000" stroke-width="3"/>
<text class="sb" x="1206" y="1558" font-size="42" textLength="810" lengthAdjust="spacingAndGlyphs">Sheet Title : Water Body Detail Fourteen</text>
<line x1="2034" y1="1546" x2="2298" y2="1546" stroke="#c00000" stroke-width="3"/>
<rect x="181" y="1596" width="1257" height="20" fill="url(#bar)"/>
<rect x="214" y="1596" width="166" height="20" fill="#fff"/>
<text class="s" x="216" y="1615" font-size="22" textLength="162" lengthAdjust="spacingAndGlyphs">Archi-Monarch</text>
<rect x="1445" y="1595" width="853" height="21" fill="#6b6bff"/>
</svg>
</body></html>
